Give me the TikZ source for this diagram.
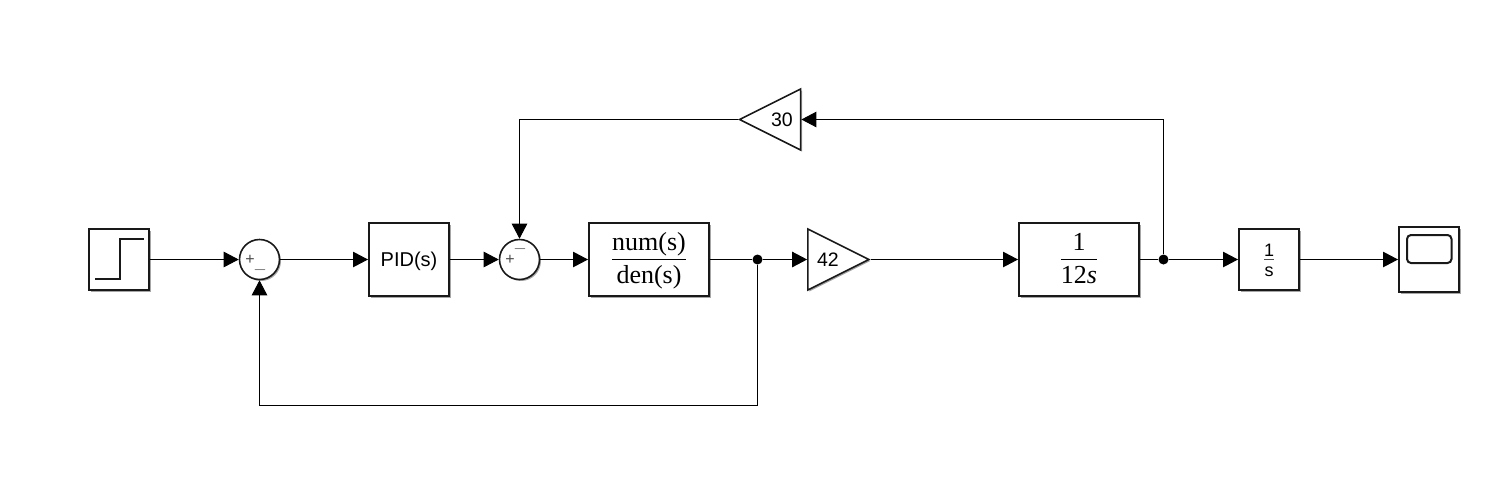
\documentclass[tikz,border=0pt]{standalone}
\usepackage{amsmath}
\usepackage{fontspec}
\setmainfont{Liberation Serif}
\setsansfont{Liberation Sans}
\usetikzlibrary{arrows.meta,shapes.geometric,shadows}
\definecolor{edgeblack}{gray}{0.1}
\definecolor{signgray}{gray}{0.3}
\newcommand{\blockfrac}[4]{\genfrac{}{}{1.5pt}{0}{\smash{\raisebox{#3}{#1}}}{\smash{\raisebox{#4}{#2}}}}
\tikzset{
shade/.style={drop shadow={shadow xshift=1.5pt,shadow yshift=-1.5pt,opacity=0.35,fill=black}},
block/.style={draw=edgeblack,line width=2pt,fill=white,shade,inner sep=0pt,minimum width=120pt,minimum height=73pt},
smallblock/.style={block,minimum width=60pt,minimum height=61pt},
fracblock/.style={block,font=\fontsize{26}{30}\selectfont,text height=29.5pt,text depth=17pt},
sumblock/.style={circle,draw=edgeblack,line width=1.6pt,fill=white,shade,inner sep=0pt,minimum size=40pt},
gainblock/.style={isosceles triangle,isosceles triangle stretches,draw=edgeblack,line width=1.6pt,fill=white,shade,inner sep=0pt,minimum width=61pt,minimum height=61pt,text height=14pt,text depth=0pt,font=\sffamily\fontsize{19.5}{22}\selectfont},
junction/.style={circle,fill=black,inner sep=0pt,minimum size=10pt},
sign/.style={inner sep=0pt,text=signgray,font=\sffamily\fontsize{16}{16}\selectfont},
wire/.style={line width=1pt},
arrow/.style={wire,-{Triangle[length=15pt,width=15.5pt]}}
}
\begin{document}
\begin{tikzpicture}[x=1pt,y=-1pt]
\useasboundingbox (0,0) rectangle (1504,491);
% forward path
\node[smallblock] (step) at (119,259.5) {};
\draw[edgeblack,line width=1.5pt] (95,279) -- (120,279) -- (120,239) -- (144,239);
\node[sumblock] (sum1) at (259.5,259.5) {};
\node[sign] (plus1) at (250,260) {+};
\node[sign] (minus1) at (260,270) {$-$};
\node[block,minimum width=80pt,text height=18pt,text depth=4pt,font=\sffamily\fontsize{20}{24}\selectfont] (pid) at (409,259.5) {PID(s)};
\node[sumblock] (sum2) at (519.5,259.5) {};
\node[sign] (plus2) at (510,260) {+};
\node[sign] (minus2) at (520,249) {$-$};
\node[fracblock] (plant) at (649,259.5) {$\blockfrac{num(s)}{den(s)}{-1.5pt}{-1pt}$};
\node[junction] (jct1) at (757.5,259.5) {};
\node[gainblock,anchor=apex] (gain42) at (871,259.5) {\hspace{2pt}42};
\node[fracblock] (intg) at (1079,259.5) {$\blockfrac{1}{12\textit{s}}{-1.5pt}{-1pt}$};
\node[junction] (jct2) at (1163.5,259.5) {};
\node[smallblock,text height=20pt,text depth=11.5pt,font=\sffamily\fontsize{18}{20}\selectfont] (intb) at (1269,259.5) {$\color{signgray}\genfrac{}{}{1.5pt}{0}{\color{black}\smash{\raisebox{-4pt}{1}}}{\color{black}\smash{\raisebox{-1pt}{s}}}$};
\node[smallblock,minimum height=65pt] (scope) at (1429,259.5) {};
\draw[edgeblack,line width=2pt,rounded corners=4pt] (1407,235) rectangle (1451.5,263);
% feedback path
\node[gainblock,shape border rotate=180,anchor=apex] (gain30) at (737.5,119.5) {30\hspace{6pt}};
\coordinate (fbdown) at (757.5,405.5);
% connectors
\draw[arrow] (step) -- (sum1);
\draw[arrow] (sum1) -- (pid);
\draw[arrow] (pid) -- (sum2);
\draw[arrow] (sum2) -- (plant);
\draw[wire] (plant) -- (jct1);
\draw[arrow] (jct1) -- (gain42.lower side);
\draw[arrow] (gain42.apex) -- (intg);
\draw[wire] (intg) -- (jct2);
\draw[arrow] (jct2) -- (intb);
\draw[arrow] (intb) -- (scope);
\draw[arrow] (jct1) -- (fbdown) -| (sum1);
\draw[arrow] (jct2) |- (gain30.lower side);
\draw[arrow] (gain30.apex) -| (sum2);
\end{tikzpicture}
\end{document}
